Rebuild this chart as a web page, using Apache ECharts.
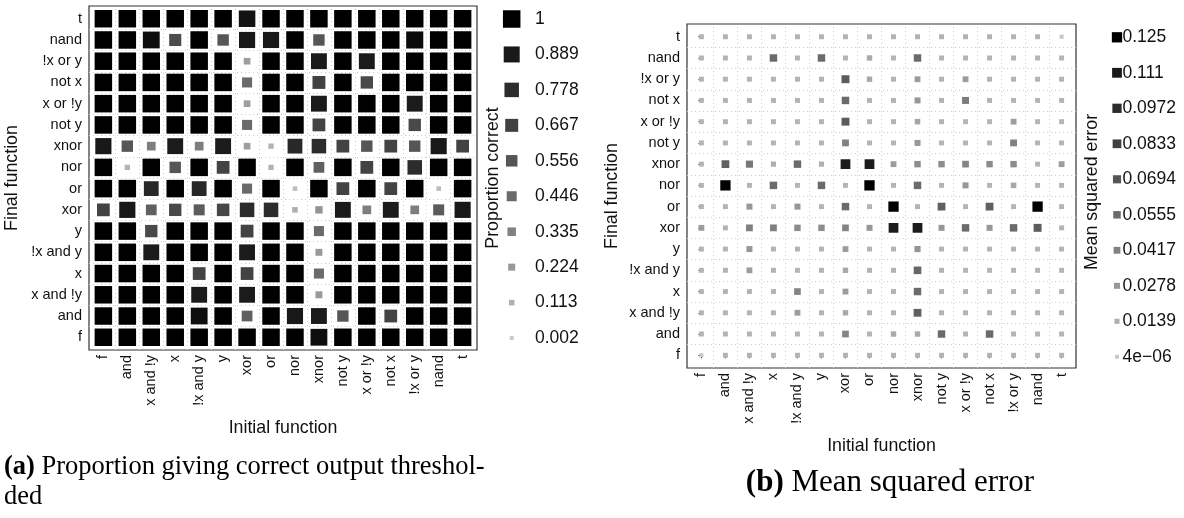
<!DOCTYPE html>
<html>
<head>
<meta charset="utf-8">
<script src="https://cdn.jsdelivr.net/npm/echarts@6/dist/echarts.min.js"></script>
<style>
  html, body { margin: 0; padding: 0; background: #ffffff; }
  #chart { width: 1184px; height: 518px; }
</style>
</head>
<body>
<div id="chart"></div>
<script>
// Boolean functions, in axis order (x: left to right, y: bottom to top)
const functionNames = ['f', 'and', 'x and !y', 'x', '!x and y', 'y', 'xor', 'or', 'nor',
  'xnor', 'not y', 'x or !y', 'not x', '!x or y', 'nand', 't'];

// Proportion giving correct output (thresholded).
// One row per final function, listed top (t) to bottom (f); columns follow functionNames.
const proportionCorrect = [
  [1, 1, 1, 1, 1, 1, 0.93, 1, 1, 1, 1, 1, 1, 1, 1, 1],                                   // t
  [1, 1, 0.95, 0.6, 1, 0.55, 0.9, 0.9, 1, 0.55, 1, 1, 1, 0.97, 1, 1],                    // nand
  [1, 1, 1, 1, 1, 1, 0.2, 1, 1, 0.88, 1, 0.88, 1, 1, 1, 1],                              // !x or y
  [1, 1, 1, 1, 1, 1, 0.45, 1, 1, 0.66, 1, 0.62, 1, 1, 1, 1],                             // not x
  [1, 1, 1, 1, 1, 1, 0.2, 1, 1, 0.88, 1, 1, 1, 0.88, 1, 1],                              // x or !y
  [1, 1, 1, 1, 1, 1, 0.45, 1, 1, 0.65, 1, 1, 1, 0.62, 1, 1],                             // not y
  [0.9, 0.55, 0.35, 0.88, 0.35, 0.88, 0.2, 0.1, 0.8, 0.78, 0.65, 0.55, 0.65, 0.55, 0.9, 0.65], // xnor
  [1, 0.1, 1, 0.55, 1, 0.65, 1, 0.1, 1, 0.5, 1, 0.65, 1, 0.78, 1, 1],                    // nor
  [1, 1, 0.8, 1, 0.8, 1, 0.45, 1, 0.05, 1, 0.65, 1, 0.65, 1, 0.05, 1],                   // or
  [0.65, 0.9, 0.5, 0.62, 0.52, 0.63, 0.78, 0.78, 0.12, 0.25, 0.88, 0.35, 0.88, 0.35, 0.52, 0.9], // xor
  [1, 1, 0.62, 1, 1, 1, 0.65, 1, 1, 0.45, 1, 1, 1, 1, 1, 1],                             // y
  [1, 1, 0.88, 1, 1, 1, 0.88, 1, 1, 0.22, 1, 1, 1, 1, 1, 1],                             // !x and y
  [1, 1, 1, 1, 0.65, 1, 0.65, 1, 1, 0.45, 1, 1, 1, 1, 1, 1],                             // x
  [1, 1, 1, 1, 0.88, 1, 0.88, 1, 1, 0.22, 1, 1, 1, 1, 1, 1],                             // x and !y
  [1, 1, 1, 1, 0.95, 1, 0.5, 1, 0.9, 0.88, 0.55, 1, 0.65, 1, 1, 1],                      // and
  [1, 1, 1, 1, 1, 1, 1, 1, 1, 0.95, 1, 1, 1, 1, 1, 1]                                    // f
];

// Mean squared error, same layout as above.
const meanSquaredError = [
  [0.012, 0.012, 0.012, 0.012, 0.012, 0.012, 0.012, 0.012, 0.012, 0.012, 0.012, 0.012, 0.012, 0.012, 0.012, 0.001], // t
  [0.012, 0.012, 0.012, 0.055, 0.012, 0.055, 0.012, 0.018, 0.012, 0.055, 0.012, 0.012, 0.012, 0.012, 0.012, 0.012], // nand
  [0.012, 0.012, 0.012, 0.012, 0.012, 0.012, 0.065, 0.018, 0.012, 0.025, 0.012, 0.025, 0.012, 0.012, 0.012, 0.012], // !x or y
  [0.012, 0.012, 0.012, 0.012, 0.012, 0.012, 0.055, 0.012, 0.012, 0.028, 0.012, 0.045, 0.012, 0.012, 0.012, 0.012], // not x
  [0.012, 0.012, 0.012, 0.012, 0.012, 0.012, 0.065, 0.012, 0.012, 0.02, 0.012, 0.012, 0.012, 0.025, 0.012, 0.012],  // x or !y
  [0.012, 0.012, 0.012, 0.012, 0.012, 0.012, 0.042, 0.012, 0.012, 0.028, 0.012, 0.012, 0.012, 0.042, 0.012, 0.012], // not y
  [0.012, 0.062, 0.048, 0.015, 0.055, 0.015, 0.11, 0.11, 0.025, 0.035, 0.035, 0.04, 0.035, 0.035, 0.012, 0.025],    // xnor
  [0.012, 0.125, 0.012, 0.055, 0.012, 0.055, 0.012, 0.125, 0.012, 0.055, 0.012, 0.028, 0.012, 0.02, 0.012, 0.012],  // nor
  [0.012, 0.012, 0.028, 0.012, 0.028, 0.012, 0.055, 0.012, 0.125, 0.012, 0.062, 0.012, 0.062, 0.012, 0.125, 0.012], // or
  [0.025, 0.012, 0.042, 0.042, 0.035, 0.035, 0.04, 0.028, 0.11, 0.11, 0.028, 0.055, 0.028, 0.055, 0.065, 0.012],    // xor
  [0.012, 0.012, 0.028, 0.012, 0.012, 0.012, 0.025, 0.012, 0.012, 0.03, 0.012, 0.012, 0.012, 0.012, 0.012, 0.012],  // y
  [0.012, 0.012, 0.025, 0.012, 0.012, 0.012, 0.018, 0.012, 0.012, 0.058, 0.012, 0.012, 0.012, 0.012, 0.012, 0.012], // !x and y
  [0.012, 0.012, 0.012, 0.012, 0.04, 0.012, 0.025, 0.012, 0.012, 0.055, 0.012, 0.012, 0.012, 0.012, 0.012, 0.012],  // x
  [0.012, 0.012, 0.012, 0.012, 0.025, 0.012, 0.018, 0.012, 0.012, 0.062, 0.012, 0.012, 0.012, 0.012, 0.012, 0.012], // x and !y
  [0.012, 0.012, 0.012, 0.012, 0.012, 0.012, 0.04, 0.012, 0.018, 0.018, 0.055, 0.012, 0.055, 0.012, 0.012, 0.012],  // and
  [0.001, 0.012, 0.012, 0.012, 0.012, 0.012, 0.012, 0.012, 0.012, 0.012, 0.012, 0.012, 0.012, 0.012, 0.012, 0.012]  // f
];

// Legend breaks
const proportionBreaks = [1, 0.889, 0.778, 0.667, 0.556, 0.446, 0.335, 0.224, 0.113, 0.002];
const proportionBreakLabels = ['1', '0.889', '0.778', '0.667', '0.556', '0.446', '0.335', '0.224', '0.113', '0.002'];
const errorBreaks = [0.125, 0.111, 0.0972, 0.0833, 0.0694, 0.0555, 0.0417, 0.0278, 0.0139, 0.000004];
const errorBreakLabels = ['0.125', '0.111', '0.0972', '0.0833', '0.0694', '0.0555', '0.0417', '0.0278', '0.0139', '4e\u221206'];

// ---- scales: one value drives both the square's side and its grey level ----
function lightnessToGrey(L) {
  const y = L > 8 ? Math.pow((L + 16) / 116, 3) : L / 903.3;
  const c = y <= 0.0031308 ? 12.92 * y : 1.055 * Math.pow(y, 1 / 2.4) - 0.055;
  const g = Math.max(0, Math.min(255, Math.round(c * 255)));
  return 'rgb(' + g + ',' + g + ',' + g + ')';
}
// byArea: side grows with the square root of the value (area-proportional); otherwise linearly
function makeScale(lo, hi, sMin, sMax, byArea) {
  const t = v => Math.max(0, Math.min(1, (v - lo) / (hi - lo)));
  return {
    size: v => byArea
      ? Math.sqrt(sMin * sMin + (sMax * sMax - sMin * sMin) * t(v))
      : sMin + (sMax - sMin) * t(v),
    color: v => lightnessToGrey(81 * (1 - t(v)))
  };
}
const propScale = makeScale(0.002, 1, 4, 17.5, false);
const errScale = makeScale(0.000004, 0.125, 4, 10.3, true);

const n = functionNames.length;
function toPoints(matrix) {
  const pts = [];
  matrix.forEach((row, r) => row.forEach((v, c) => pts.push([c, n - 1 - r, v])));
  return pts;
}

const SANS = 'Liberation Sans';
const tickIdx = functionNames.map((_, i) => i);
const cellBounds = [];
for (let k = 0; k < n - 1; k++) cellBounds.push(k + 0.5);

function fnAxis(gridIndex, isX) {
  return {
    type: 'value', gridIndex: gridIndex, min: -0.6, max: 15.6,
    axisLine: { show: false },
    splitLine: { show: false },
    axisTick: { show: true, length: 3, customValues: tickIdx, lineStyle: { color: '#333', width: 1 } },
    axisLabel: {
      customValues: tickIdx,
      formatter: v => functionNames[Math.round(v)],
      rotate: isX ? 90 : 0,
      margin: isX ? 5 : 7,
      fontSize: 14.5, fontFamily: SANS, color: '#111'
    }
  };
}

function cellSeries(idx, matrix, scale) {
  return {
    type: 'scatter', xAxisIndex: idx, yAxisIndex: idx,
    symbol: 'rect',
    symbolSize: val => scale.size(val[2]),
    itemStyle: { color: p => scale.color(p.value[2]), opacity: 1 },
    data: toPoints(matrix),
    silent: true,
    markLine: {
      silent: true, animation: false, symbol: ['none', 'none'], symbolSize: 0,
      label: { show: false },
      lineStyle: { color: '#cccccc', width: 1, type: [1, 3] },
      emphasis: { disabled: true },
      data: cellBounds.map(b => ({ xAxis: b })).concat(cellBounds.map(b => ({ yAxis: b })))
    }
  };
}

// ---- legend keys and titles ----
const graphics = [];
function legendKeys(values, labels, scale, cx, y0, step, labelX) {
  values.forEach((v, i) => {
    const s = scale.size(v), cy = y0 + i * step;
    graphics.push({ type: 'rect', shape: { x: cx - s / 2, y: cy - s / 2, width: s, height: s },
      style: { fill: scale.color(v) }, silent: true });
    graphics.push({ type: 'text', x: labelX, y: cy,
      style: { text: labels[i], font: '17.5px ' + SANS, fill: '#111', align: 'left', verticalAlign: 'middle' } });
  });
}
legendKeys(proportionBreaks, proportionBreakLabels, propScale, 511.7, 19, 35.45, 535);
legendKeys(errorBreaks, errorBreakLabels, errScale, 1117, 37.3, 35.5, 1122.5);

function title(text, x, y, vertical) {
  graphics.push({ type: 'text', x: x, y: y, rotation: vertical ? Math.PI / 2 : 0,
    style: { text: text, font: '17.8px ' + SANS, fill: '#111', align: 'center', verticalAlign: 'middle' } });
}
title('Final function', 12, 178, true);
title('Initial function', 283, 428, false);
title('Proportion correct', 493, 178, true);
title('Final function', 612, 196, true);
title('Initial function', 881.5, 446, false);
title('Mean squared error', 1092, 192, true);

// sub-figure captions
graphics.push({ type: 'text', x: 4, y: 467,
  style: { text: '{b|(a)} Proportion giving correct output threshol-', font: '26.5px "Liberation Serif"', fill: '#000',
    align: 'left', verticalAlign: 'middle', rich: { b: { fontWeight: 'bold', fontSize: 26.5, fontFamily: 'Liberation Serif' } } } });
graphics.push({ type: 'text', x: 4, y: 497,
  style: { text: 'ded', font: '26.5px "Liberation Serif"', fill: '#000', align: 'left', verticalAlign: 'middle' } });
graphics.push({ type: 'text', x: 890, y: 483,
  style: { text: '{b|(b)} Mean squared error', font: '31px "Liberation Serif"', fill: '#000',
    align: 'center', verticalAlign: 'middle', rich: { b: { fontWeight: 'bold', fontSize: 31, fontFamily: 'Liberation Serif' } } } });

const chart = echarts.init(document.getElementById('chart'), null, { renderer: 'canvas' });
chart.setOption({
  animation: false,
  backgroundColor: '#ffffff',
  grid: [
    { left: 89, top: 6, width: 388, height: 344, show: true, borderColor: '#333', borderWidth: 1.2, backgroundColor: '#fff' },
    { left: 687, top: 24, width: 389, height: 344, show: true, borderColor: '#333', borderWidth: 1.2, backgroundColor: '#fff' }
  ],
  xAxis: [fnAxis(0, true), fnAxis(1, true)],
  yAxis: [fnAxis(0, false), fnAxis(1, false)],
  series: [
    cellSeries(0, proportionCorrect, propScale),
    cellSeries(1, meanSquaredError, errScale)
  ],
  graphic: graphics
});
</script>
</body>
</html>
